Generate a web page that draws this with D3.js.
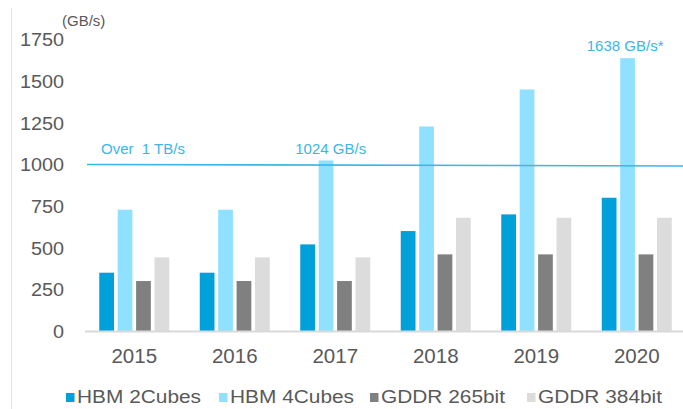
<!DOCTYPE html>
<html><head><meta charset="utf-8">
<script src="https://cdn.jsdelivr.net/npm/d3@7"></script>
<style>
html,body{margin:0;padding:0;background:#fff;}
svg{display:block;font-family:"Liberation Sans",Arial,sans-serif;}
</style></head>
<body>
<svg id="chart" width="683" height="409"></svg>
<script>
const years = ["2015","2016","2017","2018","2019","2020"];
const seriesNames = ["HBM 2Cubes","HBM 4Cubes","GDDR 265bit","GDDR 384bit"];
const hbm2 = [350, 350, 520, 600, 700, 800];
const hbm4 = [728, 728, 1024, 1228, 1450, 1638];
const gddr256 = [300, 300, 300, 460, 460, 460];
const gddr384 = [442, 442, 442, 680, 680, 680];
const yTicks = [0, 250, 500, 750, 1000, 1250, 1500, 1750];
const colors = ["#00a0da", "#8fe1ff", "#808080", "#dcdcdc"];
const refValue = 1000;
const annotations = [
  {text: "Over  1 TB/s", year: "2015", value: 1000},
  {text: "1024 GB/s", year: "2017", value: 1024},
  {text: "1638 GB/s*", year: "2020", value: 1638}
];

const seriesData = [hbm2, hbm4, gddr256, gddr384];
const svg = d3.select("#chart");
const accent = "#3db5e6";
const textGrey = "#595959";

const x = d3.scaleBand().domain(years).range([84, 687]).padding(0);
const xi = d3.scaleBand().domain(seriesNames).range([-35, 35]).paddingInner(0.2).paddingOuter(0);
const y = d3.scaleLinear().domain([0, 1750]).range([331, 39.5]);

// left border line
svg.append("line").attr("x1", 11.5).attr("x2", 11.5).attr("y1", 8).attr("y2", 409)
  .attr("stroke", "#e3e3e3").attr("stroke-width", 1);

// y axis labels
const yAxis = d3.axisLeft(y).tickValues(yTicks).tickFormat(d3.format("d")).tickSize(0).tickPadding(0);
const yg = svg.append("g").attr("transform", "translate(64,0)").call(yAxis);
yg.select(".domain").remove();
yg.selectAll("text").attr("font-size", "18px").attr("fill", textGrey)
  .attr("font-family", "Liberation Sans, Arial, sans-serif").attr("dy", "0.36em")
  .attr("transform", "scale(1.1,1)");

svg.append("text").attr("x", 62).attr("y", 26).attr("font-size", "15px")
  .attr("fill", textGrey).text("(GB/s)");

// bars
seriesNames.forEach((name, si) => {
  svg.append("g").selectAll("rect").data(years).join("rect")
    .attr("x", d => x(d) + x.bandwidth() / 2 + xi(name))
    .attr("width", xi.bandwidth())
    .attr("y", (d, i) => y(seriesData[si][i]))
    .attr("height", (d, i) => y(0) - y(seriesData[si][i]))
    .attr("fill", colors[si]);
});

// x axis
const xAxis = d3.axisBottom(x).tickSize(0).tickPadding(0);
const xg = svg.append("g").attr("transform", `translate(0,${y(0)})`).call(xAxis);
xg.select(".domain").attr("stroke", "#d9d9d9").attr("stroke-width", 2)
  .attr("d", "M85,0.5H683");
xg.selectAll("text").attr("font-size", "20.5px").attr("fill", textGrey)
  .attr("font-family", "Liberation Sans, Arial, sans-serif").attr("dy", "0").attr("y", 32);

// reference line
svg.append("line").attr("x1", 87).attr("x2", 683)
  .attr("y1", y(refValue)).attr("y2", y(refValue) + 1.5)
  .attr("stroke", accent).attr("stroke-width", 1.6);

// annotations
svg.append("text").attr("x", 101).attr("y", y(1000) - 10).attr("font-size", "15px")
  .attr("fill", accent).style("white-space", "pre").text(annotations[0].text);
svg.append("text").attr("x", x(annotations[1].year) + x.bandwidth() / 2 - 40).attr("y", y(1000) - 10)
  .attr("font-size", "15px").attr("fill", accent).text(annotations[1].text);
svg.append("text").attr("x", x(annotations[2].year) + x.bandwidth() / 2 - 50).attr("y", y(annotations[2].value) - 7)
  .attr("font-size", "15px").attr("fill", accent).text(annotations[2].text);

// legend
const legendX = [66, 219, 370, 527];
const lg = svg.append("g");
seriesNames.forEach((name, i) => {
  lg.append("rect").attr("x", legendX[i]).attr("y", 393).attr("width", 8.5).attr("height", 9).attr("fill", colors[i]);
  lg.append("text").attr("x", legendX[i] + 11).attr("y", 402.5).attr("font-size", "18px")
    .attr("fill", textGrey).attr("textLength", 124).attr("lengthAdjust", "spacingAndGlyphs").text(name);
});
</script>
</body></html>
